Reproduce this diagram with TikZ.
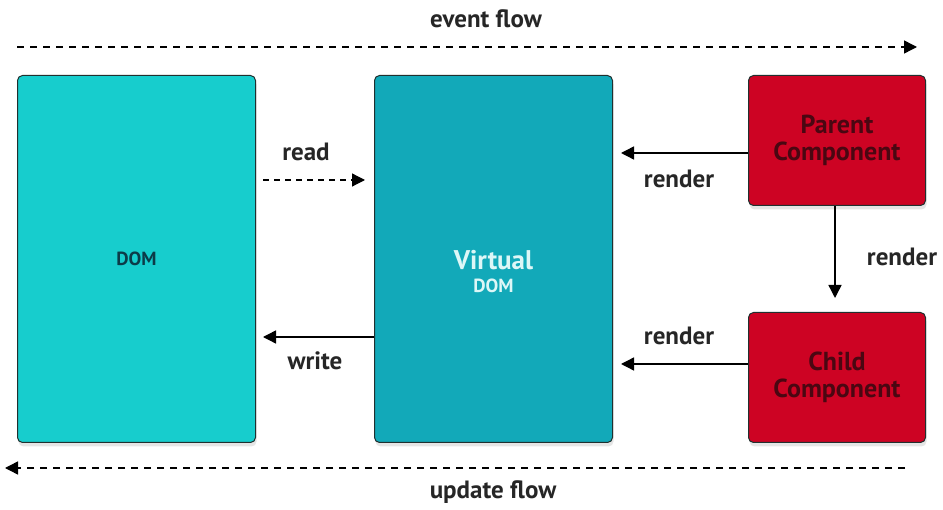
\documentclass[tikz,border=0pt]{standalone}
\usepackage{fontspec}
\setmainfont{PT Sans}
\usetikzlibrary{arrows.meta,shadows}

\definecolor{DomCyan}{HTML}{17CDCD}
\definecolor{VdomTeal}{HTML}{12A9B9}
\definecolor{CompRed}{HTML}{CD0323}
\definecolor{CompText}{HTML}{4A0712}
\definecolor{DomText}{HTML}{0C3B48}
\definecolor{VdomText}{HTML}{DDF7F7}
\definecolor{EdgeDark}{HTML}{20302F}

\begin{document}
\begin{tikzpicture}[x=1pt, y=-1pt,
  card/.style={draw=EdgeDark, line width=1pt, rounded corners=5pt, anchor=north west,
    align=center, inner sep=0pt,
    drop shadow={opacity=0.2, shadow xshift=1pt, shadow yshift=-4pt}},
  flowline/.style={line width=1.4pt, dash pattern=on 7pt off 6pt},
  tip/.style={-{Triangle[length=13pt,width=13pt]}},
  lbl/.style={font=\fontsize{25}{28}\selectfont\bfseries, text=black!85}]

  % Rahmen
  \useasboundingbox[fill=white] (0,0) rectangle (943,510);

  % Karten
  \node[card, fill=DomCyan, minimum width=238pt, minimum height=367pt,
        font=\fontsize{19}{22}\selectfont\bfseries, text=DomText] (dom) at (17,75) {DOM};
  % Strut schiebt "Virtual DOM" etwas unter die Mitte
  \node[card, fill=VdomTeal, minimum width=238pt, minimum height=367pt,
        font=\fontsize{19}{23}\selectfont\bfseries, text=VdomText] (vdom) at (374,75)
    {\rule{0pt}{44pt}{\fontsize{27}{28}\selectfont Virtual}\\DOM};
  \node[card, fill=CompRed, minimum width=177pt, minimum height=130pt,
        font=\fontsize{26}{27}\selectfont\bfseries, text=CompText] (parent) at (748,75) {Parent\\Component};
  \node[card, fill=CompRed, minimum width=177pt, minimum height=130pt,
        font=\fontsize{26}{27}\selectfont\bfseries, text=CompText] (child) at (748,312) {Child\\Component};

  % Fluss oben und unten
  \coordinate (evstart) at (17,47);
  \coordinate (evend) at (917,47);
  \coordinate (upstart) at (905,468);
  \coordinate (upend) at (5,468);
  \draw[flowline, tip] (evstart) -- (evend);
  \draw[flowline, tip] (upstart) -- (upend);
  \node[lbl] (evlbl) at (486,19) {event flow};
  \node[lbl] (uplbl) at (493,492) {update flow};

  % read / write
  \draw[line width=1.2pt, dash pattern=on 6pt off 5pt, tip, shorten <=7pt, shorten >=9pt]
    (dom.east |- 0,180) -- (vdom.west |- 0,180);
  \node[lbl] (readlbl) at (306,152) {read};
  \draw[line width=1.4pt, tip, shorten >=7pt] (vdom.west |- 0,337) -- (dom.east |- 0,337);
  \node[lbl] (writelbl) at (315,361) {write};

  % render
  \draw[line width=1.4pt, tip, shorten >=8pt] (parent.west |- 0,153) -- (vdom.east |- 0,153);
  \node[lbl] (rlbl1) at (679,179) {render};
  \draw[line width=1.4pt, tip, shorten >=8pt] (child.west |- 0,364) -- (vdom.east |- 0,364);
  \node[lbl] (rlbl2) at (679,336) {render};
  \draw[line width=1.4pt, tip, shorten >=14pt] (parent.south -| 835,0) -- (child.north -| 835,0);
  \node[lbl] (rlbl3) at (902,257) {render};

\end{tikzpicture}
\end{document}
